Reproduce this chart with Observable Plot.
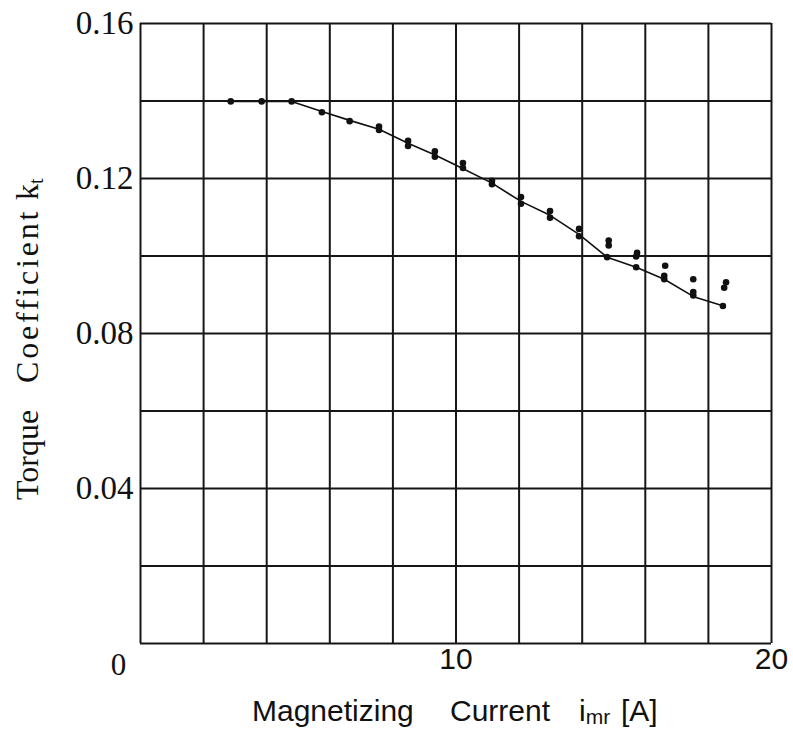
<!DOCTYPE html>
<html>
<head>
<meta charset="utf-8">
<script src="https://cdn.jsdelivr.net/npm/d3@7"></script>
<script src="https://cdn.jsdelivr.net/npm/@observablehq/plot@0.6"></script>
<style>
  html, body { margin: 0; padding: 0; background: #fff; }
</style>
</head>
<body>
<script>
// Torque coefficient k_t versus magnetizing current i_mr

// Fitted curve
const curveCurrent = [2.86, 4.79, 5.75, 6.63, 7.56, 8.48, 9.30, 9.94, 11.14, 12.06, 12.98, 13.90, 14.79, 15.71, 16.60, 17.56, 18.48];
const curveKt      = [0.1399, 0.1399, 0.1373, 0.1350, 0.1327, 0.1291, 0.1262, 0.1237, 0.1188, 0.1141, 0.1105, 0.1056, 0.0997, 0.0971, 0.0940, 0.0894, 0.0871];

// Measured points
const measCurrent = [2.86, 3.84, 4.79, 5.75, 6.63, 7.56, 7.56, 8.48, 8.48, 9.33, 9.33, 10.22, 10.22,
  11.14, 11.14, 12.06, 12.06, 12.98, 12.98, 13.90, 13.90, 14.79, 14.84, 14.84,
  15.71, 15.71, 15.74, 16.60, 16.60, 16.63, 17.52, 17.52, 17.52, 18.46, 18.50, 18.56];
const measKt = [0.1399, 0.1399, 0.1399, 0.1371, 0.1348, 0.1325, 0.1334, 0.1284, 0.1297, 0.1256, 0.1270, 0.1227, 0.1240,
  0.1185, 0.1194, 0.1135, 0.1152, 0.1099, 0.1116, 0.1051, 0.1070, 0.0997, 0.1027, 0.1040,
  0.0971, 0.0999, 0.1008, 0.0940, 0.0949, 0.0975, 0.0898, 0.0907, 0.0940, 0.0871, 0.0918, 0.0932];

// Grid and tick labels
const gridX = [0, 2, 4, 6, 8, 10, 12, 14, 16, 18, 20];
const gridY = [0, 0.02, 0.04, 0.06, 0.08, 0.10, 0.12, 0.14, 0.16];
const xTicks = [10, 20];
const yTicks = [0.04, 0.08, 0.12, 0.16];

const curve = curveCurrent.map((x, i) => ({x, y: curveKt[i]}));
const points = measCurrent.map((x, i) => ({x, y: measKt[i]}));

const serif = "'Liberation Serif', 'Times New Roman', serif";
const sans = "'Liberation Sans', Arial, sans-serif";

const svg = Plot.plot({
  width: 793,
  height: 732,
  marginLeft: 140,
  marginRight: 22,
  marginTop: 23,
  marginBottom: 89,
  style: {background: "#fff", color: "#111", overflow: "visible"},
  x: {domain: [0, 20], axis: null},
  y: {domain: [0, 0.16], axis: null},
  marks: [
    Plot.ruleX(gridX, {x: d => d, stroke: "#161616", strokeWidth: 2}),
    Plot.ruleY(gridY, {y: d => d, stroke: "#161616", strokeWidth: 2}),
    Plot.line(curve, {x: "x", y: "y", stroke: "#111", strokeWidth: 1.6}),
    Plot.dot(points, {x: "x", y: "y", r: 3.3, fill: "#111", stroke: "none"}),
    Plot.text(yTicks, {y: d => d, frameAnchor: "left", dx: -7, textAnchor: "end", lineAnchor: "middle",
      text: d => d.toFixed(2), fontSize: 33, fontFamily: serif, fill: "#111"}),
    Plot.text(xTicks, {x: d => d, frameAnchor: "bottom", dy: 16, lineAnchor: "middle", text: d => String(d),
      fontSize: 30, fontFamily: sans, fill: "#111"}),
    Plot.text([0], {x: d => d, y: d => d, dx: -22, dy: 22, lineAnchor: "middle", text: d => String(d),
      fontSize: 31, fontFamily: serif, fill: "#111"})
  ]
});

const root = d3.select(svg);

// y-axis title, rotated
const yt = root.append("text")
  .attr("transform", "translate(38,0) rotate(-90)")
  .attr("text-anchor", "start")
  .attr("font-family", serif)
  .attr("font-size", 32)
  .attr("fill", "#111");
yt.append("tspan").attr("x", -500).text("Torque");
yt.append("tspan").attr("x", -383).attr("letter-spacing", 2.8).text("Coefficient");
yt.append("tspan").attr("x", -200).text("k");
yt.append("tspan").attr("font-size", 20).attr("dy", 5).text("t");

// x-axis title
const xt = root.append("text")
  .attr("y", 721)
  .attr("text-anchor", "start")
  .attr("font-family", sans)
  .attr("font-size", 30)
  .attr("fill", "#111");
xt.append("tspan").attr("x", 252).text("Magnetizing");
xt.append("tspan").attr("x", 450).text("Current");
xt.append("tspan").attr("x", 579).text("i");
xt.append("tspan").attr("font-size", 21).attr("dy", 3).text("mr");
xt.append("tspan").attr("x", 621).attr("dy", -3).text("[A]");

document.body.appendChild(svg);
</script>
</body>
</html>
